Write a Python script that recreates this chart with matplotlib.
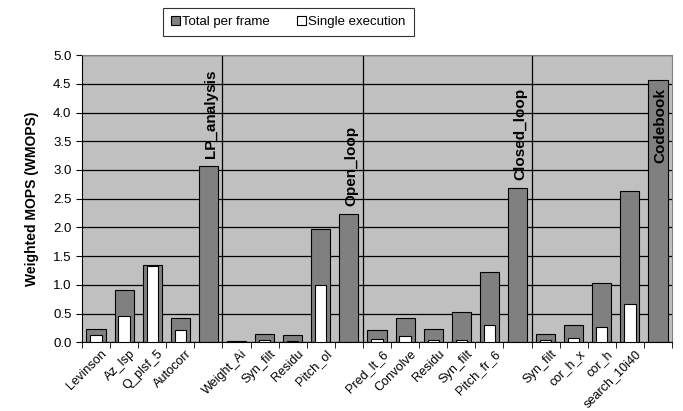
import matplotlib.pyplot as plt
import matplotlib.transforms as mtransforms
import numpy as np
from matplotlib.patches import Patch

plt.rcParams['font.family'] = ['Liberation Sans', 'DejaVu Sans']

labels = ["Levinson", "Az_lsp", "Q_plsf_5", "Autocorr", "",
          "Weight_Ai", "Syn_filt", "Residu", "Pitch_ol", "",
          "Pred_lt_6", "Convolve", "Residu", "Syn_filt", "Pitch_fr_6", "",
          "Syn_filt", "cor_h_x", "cor_h", "search_10i40", ""]
total = [0.24, 0.91, 1.34, 0.42, 3.07,
         0.02, 0.14, 0.12, 1.98, 2.24,
         0.21, 0.43, 0.24, 0.53, 1.23, 2.69,
         0.14, 0.31, 1.04, 2.64, 4.56]
single = [0.13, 0.46, 1.33, 0.21, 0.0,
          0.01, 0.04, 0.03, 0.99, 0.0,
          0.06, 0.115, 0.04, 0.04, 0.31, 0.0,
          0.04, 0.08, 0.265, 0.66, 0.0]
groups = ["LP_analysis", "Open_loop", "Closed_loop", "Codebook"]
group_idx = [4, 9, 15, 20]

x = np.arange(len(labels))

fig = plt.figure(figsize=(6.83, 4.11), dpi=100)
ax = fig.add_axes([0.120, 0.167, 0.864, 0.699])
ax.set_facecolor("#c0c0c0")

ax.set_ylim(0, 5.0)
ax.set_xlim(-0.5, len(labels) - 0.5)
ax.set_yticks(np.arange(0, 5.01, 0.5))
ax.set_yticklabels([f"{v:.1f}" for v in np.arange(0, 5.01, 0.5)], fontsize=9.5)
ax.yaxis.grid(True, color="black", linewidth=0.9)
ax.set_axisbelow(True)

ax.bar(x, total, width=0.68, color="#808080", edgecolor="black", linewidth=0.8, zorder=2)
sx = [i for i in x if single[i] > 0]
ax.bar(sx, [single[i] for i in sx], width=0.4, color="white", edgecolor="black", linewidth=0.8, zorder=3)

for b in [4.5, 9.5, 15.5]:
    ax.axvline(b, color="black", linewidth=0.9, zorder=1)

for name, i in zip(groups, group_idx):
    if name == "Codebook":
        ax.text(i + 0.1, 4.42, name, rotation=90, ha="center", va="top",
                fontsize=11, fontweight="bold", zorder=4)
    else:
        ax.text(i + 0.1, total[i] + 0.13, name, rotation=90, ha="center", va="bottom",
                fontsize=11, fontweight="bold", zorder=4)

ax.set_xticks(x)
ax.set_xticklabels(labels, rotation=45, ha="right", rotation_mode="anchor", fontsize=9.1)
ax.tick_params(axis="x", length=0, pad=4)
ax.set_xticks(np.arange(-0.5, len(labels), 1), minor=True)
ax.tick_params(axis="x", which="minor", length=4, direction="out")
ax.tick_params(axis="y", length=4, direction="out")

# nudge the rotated labels a little to the right, like the original
shift = mtransforms.ScaledTranslation(5 / 100, 0, fig.dpi_scale_trans)
for lab in ax.get_xticklabels():
    lab.set_transform(lab.get_transform() + shift)

for s in ["top", "right"]:
    ax.spines[s].set_color("#808080")

ax.set_ylabel("Weighted MOPS (WMOPS)", fontsize=10, fontweight="bold", labelpad=10)

handles = [Patch(facecolor="#808080", edgecolor="black", linewidth=0.8, label="Total per frame"),
           Patch(facecolor="white", edgecolor="black", linewidth=0.8, label="Single execution")]
leg = fig.legend(handles=handles, loc="center", bbox_to_anchor=(0.422, 0.947), ncol=2,
                 fontsize=9.5, frameon=True, fancybox=False, edgecolor="black",
                 handlelength=0.7, handleheight=0.7, handletextpad=0.2, columnspacing=2.0,
                 borderpad=0.6)
leg.get_frame().set_linewidth(0.8)

fig.savefig("out.png", dpi=100)
